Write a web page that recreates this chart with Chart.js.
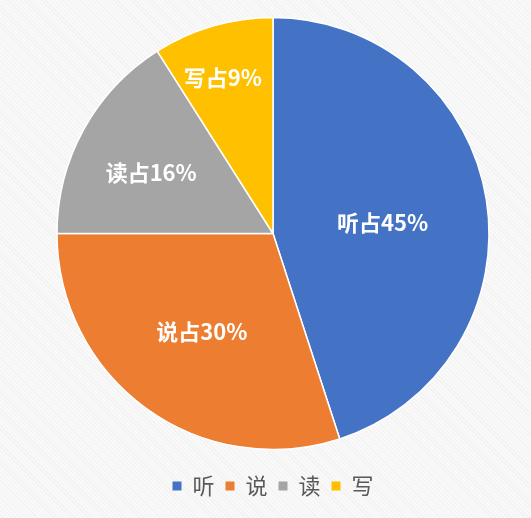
<!DOCTYPE html>
<html lang="zh">
<head>
<meta charset="utf-8">
<title>听说读写占比</title>
<script src="https://cdn.jsdelivr.net/npm/chart.js@4/dist/chart.umd.min.js"></script>
<style>
    html, body {
        margin: 0;
        padding: 0;
        width: 531px;
        height: 518px;
        overflow: hidden;
        background-color: #f8f8f8;
        background-image: repeating-linear-gradient(45deg, #f9f9f9 0px, #f9f9f9 2px, #f2f2f2 2px, #f2f2f2 3px);
    }
    #grafica {
        display: block;
    }
</style>
</head>
<body>
<canvas id="grafica" width="531" height="518"></canvas>
<script>
// Datos del gráfico
const categorias = ['听', '说', '读', '写'];
const porcentajes = [45, 30, 16, 9];
const coloresSerie = ['#4472C4', '#ED7D31', '#A5A5A5', '#FFC000'];

// Posición de cada etiqueta: fracción del ángulo de la porción y fracción del radio
const anguloEtiqueta = [0.52, 0.5, 0.46, 0.45];
const distanciaEtiqueta = [0.51, 0.56, 0.63, 0.76];

const FUENTE = "'Noto Sans CJK SC', 'Noto Sans', sans-serif";

// Etiquetas blancas dentro de cada porción
const etiquetasPorcion = {
    id: 'etiquetasPorcion',
    afterDatasetsDraw(chart) {
        const ctx = chart.ctx;
        const meta = chart.getDatasetMeta(0);
        ctx.save();
        ctx.fillStyle = '#ffffff';
        ctx.font = 'bold 22px ' + FUENTE;
        ctx.textAlign = 'center';
        ctx.textBaseline = 'middle';
        meta.data.forEach((arc, i) => {
            const p = arc.getProps(['x', 'y', 'startAngle', 'endAngle', 'outerRadius'], true);
            const angulo = p.startAngle + (p.endAngle - p.startAngle) * anguloEtiqueta[i];
            const r = p.outerRadius * distanciaEtiqueta[i];
            const x = p.x + Math.cos(angulo) * r;
            const y = p.y + Math.sin(angulo) * r;
            ctx.fillText(categorias[i] + '占' + porcentajes[i] + '%', x, y);
        });
        ctx.restore();
    }
};

const generarOriginal = Chart.overrides.pie.plugins.legend.labels.generateLabels;

new Chart(document.getElementById('grafica'), {
    type: 'pie',
    data: {
        labels: categorias,
        datasets: [{
            data: porcentajes,
            backgroundColor: coloresSerie,
            borderColor: '#ffffff',
            borderWidth: 1.5
        }]
    },
    options: {
        responsive: false,
        animation: false,
        radius: 216,
        layout: {
            padding: { top: 3, bottom: 11, left: 15, right: 0 }
        },
        plugins: {
            legend: {
                display: true,
                position: 'bottom',
                labels: {
                    boxWidth: 9,
                    boxHeight: 9,
                    padding: 11,
                    color: '#595959',
                    font: { size: 22, family: FUENTE },
                    generateLabels(chart) {
                        return generarOriginal(chart).map(item => ({ ...item, lineWidth: 0 }));
                    }
                },
                onClick: null
            },
            tooltip: { enabled: false }
        }
    },
    plugins: [etiquetasPorcion]
});
</script>
</body>
</html>
